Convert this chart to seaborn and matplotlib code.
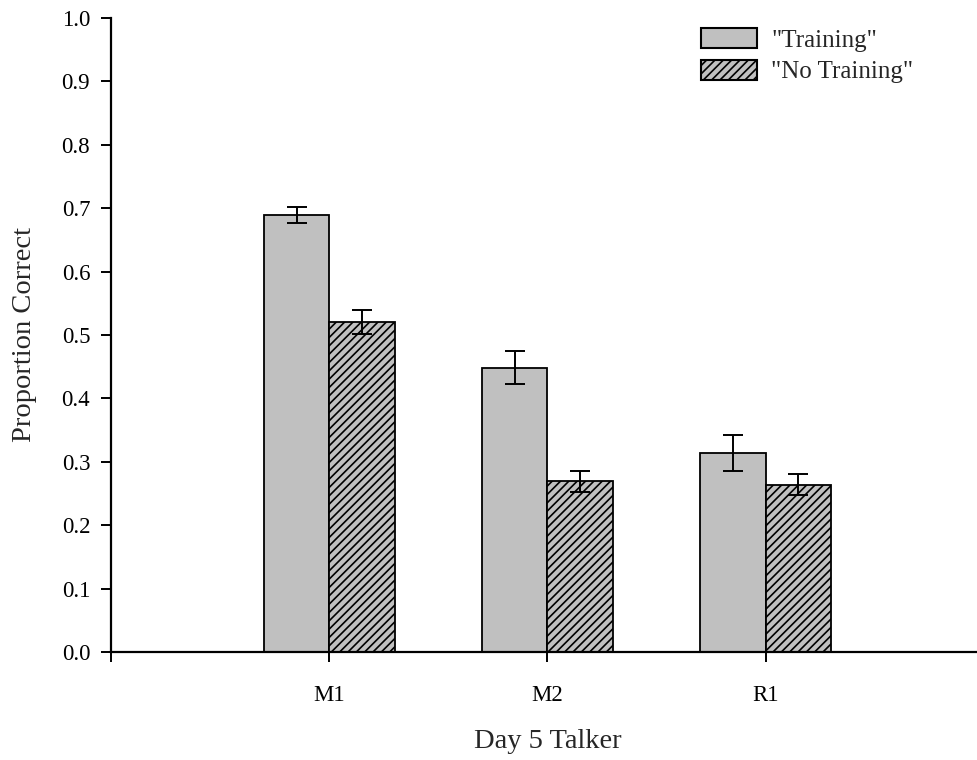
import matplotlib
matplotlib.use("Agg")
import matplotlib.pyplot as plt
import seaborn as sns
import pandas as pd
import numpy as np
from matplotlib.patches import Patch

talkers = ["M1", "M2", "R1"]
conditions = ['"Training"', '"No Training"']
training_means = [0.689, 0.448, 0.314]
training_err = [0.013, 0.026, 0.028]
notraining_means = [0.520, 0.269, 0.264]
notraining_err = [0.019, 0.017, 0.016]
yticks = [0.0, 0.1, 0.2, 0.3, 0.4, 0.5, 0.6, 0.7, 0.8, 0.9, 1.0]

df = pd.DataFrame({
    "Talker": talkers * 2,
    "Condition": [conditions[0]] * 3 + [conditions[1]] * 3,
    "Mean": training_means + notraining_means,
    "Err": training_err + notraining_err,
})

sns.set_theme(style="ticks")
plt.rcParams["font.family"] = ["Liberation Serif", "DejaVu Serif"]
plt.rcParams["hatch.linewidth"] = 1.2
plt.rcParams["hatch.color"] = "black"

fig = plt.figure(figsize=(9.78, 7.6), dpi=100)
ax = fig.add_axes([111 / 978, 1 - 652 / 760, (984 - 111) / 978, (652 - 18) / 760])

sns.barplot(data=df, x="Talker", y="Mean", hue="Condition", order=talkers,
            hue_order=conditions, palette=["#c0c0c0", "#c0c0c0"],
            width=0.6, gap=0, edgecolor="black", linewidth=1.3,
            errorbar=None, ax=ax, legend=False, saturation=1)

bars = ax.patches
n = len(talkers)
for i, p in enumerate(bars[:2 * n]):
    if i >= n:
        p.set_hatch("////")

errs = training_err + notraining_err
means = training_means + notraining_means
centers = [p.get_x() + p.get_width() / 2 for p in bars[:2 * n]]
ax.errorbar(centers, means, yerr=errs, fmt="none", ecolor="black",
            elinewidth=1.4, capsize=7, capthick=1.4, zorder=5)

ax.set_xlim(-1, 3)
ax.set_ylim(0, 1.0)
ax.set_xticks([-1, 0, 1, 2])
ax.set_xticklabels([""] + talkers)
ax.set_yticks(yticks)
ax.set_yticklabels([f"{v:.1f}" for v in yticks])
ax.tick_params(axis="both", labelsize=16.5, width=1.4, length=7, colors="black")
ax.tick_params(axis="x", pad=17)
ax.tick_params(axis="y", pad=8)
ax.set_xlabel("Day 5 Talker", fontsize=20.5, labelpad=16)
ax.set_ylabel("Proportion Correct", fontsize=20.5, labelpad=18)
for s in ["top", "right"]:
    ax.spines[s].set_visible(False)
for s in ["left", "bottom"]:
    ax.spines[s].set_linewidth(1.6)
    ax.spines[s].set_color("black")

handles = [Patch(facecolor="#c0c0c0", edgecolor="black", linewidth=1.5),
           Patch(facecolor="#c0c0c0", edgecolor="black", linewidth=1.5, hatch="////")]
fig.legend(handles, conditions, loc="upper left",
           bbox_to_anchor=(701 / 978, 1 - 28 / 760), frameon=False,
           fontsize=18, handlelength=2.25, handleheight=0.85,
           handletextpad=0.55, labelspacing=0.32, borderpad=0, borderaxespad=0)

fig.savefig("out.png", dpi=100)
